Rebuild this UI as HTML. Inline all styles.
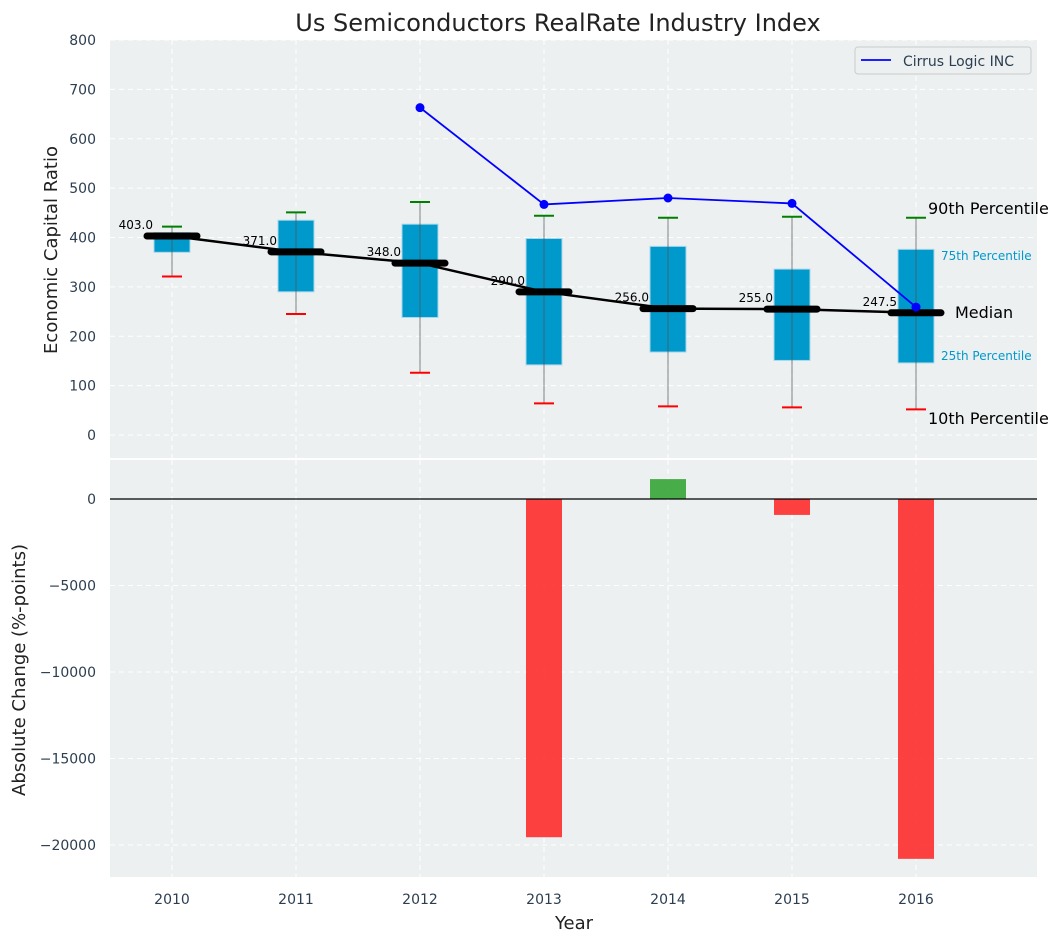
<!DOCTYPE html>
<html><head><meta charset="utf-8"><style>
body{margin:0;background:#fff;}
svg{display:block;font-family:"DejaVu Sans","Liberation Sans",sans-serif;}
</style></head><body>
<svg id="chart" width="1063" height="942"></svg>
<script>
const years=[2010,2011,2012,2013,2014,2015,2016];
const p10=[321,245,126,64,58,56,52];
const p25=[370,290,238,142,168,151,146];
const p75=[410,435,427,398,382,336,376];
const p90=[422,451,472,444,440,442,440];
const medians=[403,371,348,290,256,255,247.5];
const cirrusYears=[2012,2013,2014,2015,2016];
const cirrusVals=[663,467,480,469,259];
const changeYears=[2013,2014,2015,2016];
const changeVals=[-19550,1150,-920,-20800];
const topTicks=[0,100,200,300,400,500,600,700,800];
const botTicks=[0,-5000,-10000,-15000,-20000];

const svg=document.getElementById('chart');
const NS='http://www.w3.org/2000/svg';
function mk(tag,attrs,name,parent){const e=document.createElementNS(NS,tag);for(const k in attrs)e.setAttribute(k,attrs[k]);


(parent||svg).appendChild(e);return e;}
function txt(s,attrs,name){const e=mk('text',attrs,name);e.textContent=s;return e;}
const L=110,R=1037;
const x=v=>172+(v-2010)*124;
const yT=v=>435-v*0.49375;
const yB=v=>499-v*0.0173;
const T0=40,T1=458,B0=460,B1=877;
mk('rect',{x:L,y:T0,width:R-L,height:T1-T0,fill:'#ecf0f1'},'top-plot-area');
mk('rect',{x:L,y:B0,width:R-L,height:B1-B0,fill:'#ecf0f1'},'bottom-plot-area');
// grid
topTicks.forEach(t=>{mk('line',{x1:L,x2:R,y1:yT(t),y2:yT(t),stroke:'#fff','stroke-dasharray':'5,4','stroke-width':1},'top-grid-line');
txt(t,{x:96,y:yT(t)+5,'text-anchor':'end','font-size':14,fill:'#2c3e50'},'top-y-tick-label');});
botTicks.forEach(t=>{mk('line',{x1:L,x2:R,y1:yB(t),y2:yB(t),stroke:'#fff','stroke-dasharray':'5,4','stroke-width':1},'bottom-grid-line');
txt(t===0?'0':'\u2212'+Math.abs(t),{x:96,y:yB(t)+5,'text-anchor':'end','font-size':14,fill:'#2c3e50'},'bottom-y-tick-label');});
years.forEach(yr=>{mk('line',{x1:x(yr),x2:x(yr),y1:T0,y2:T1,stroke:'#fff','stroke-dasharray':'5,4'},'top-vgrid');
mk('line',{x1:x(yr),x2:x(yr),y1:B0,y2:B1,stroke:'#fff','stroke-dasharray':'5,4'},'bottom-vgrid');
txt(yr,{x:x(yr),y:904,'text-anchor':'middle','font-size':14,fill:'#2c3e50'},'x-tick-label');});
// boxes
years.forEach((yr,i)=>{const cx=x(yr);
mk('rect',{x:cx-18,y:yT(p75[i]),width:36,height:yT(p25[i])-yT(p75[i]),fill:'#0099cc',stroke:'#a9d8ea','stroke-width':1},'box-'+yr);
mk('line',{x1:cx,x2:cx,y1:yT(p90[i]),y2:yT(p10[i]),stroke:'#555','stroke-opacity':0.6,'stroke-width':1.2},'whisker-'+yr);
mk('line',{x1:cx-10,x2:cx+10,y1:yT(p90[i]),y2:yT(p90[i]),stroke:'green','stroke-width':2},'cap-90-'+yr);
mk('line',{x1:cx-10,x2:cx+10,y1:yT(p10[i]),y2:yT(p10[i]),stroke:'red','stroke-width':2},'cap-10-'+yr);});
mk('polyline',{points:years.map((yr,i)=>x(yr)+','+yT(medians[i])).join(' '),fill:'none',stroke:'#000','stroke-width':2.5},'median-line');
years.forEach((yr,i)=>{const cx=x(yr);
mk('line',{x1:cx-25,x2:cx+25,y1:yT(medians[i]),y2:yT(medians[i]),stroke:'#000','stroke-width':7,'stroke-linecap':'round'},'median-marker-'+yr);
txt(medians[i].toFixed(1),{x:cx-19,y:yT(medians[i])-7,'text-anchor':'end','font-size':12,fill:'#000'},'median-label-'+yr);});
// cirrus
mk('polyline',{points:cirrusYears.map((yr,i)=>x(yr)+','+yT(cirrusVals[i])).join(' '),fill:'none',stroke:'blue','stroke-width':1.8},'cirrus-line');
cirrusYears.forEach((yr,i)=>mk('circle',{cx:x(yr),cy:yT(cirrusVals[i]),r:4.5,fill:'blue'},'cirrus-point-'+yr));
// annotations
txt('90th Percentile',{x:928,y:214,'font-size':16,fill:'#000'},'p90-annotation');
txt('75th Percentile',{x:941,y:260,'font-size':12,fill:'#0099cc'},'p75-annotation');
txt('Median',{x:955,y:318,'font-size':16,fill:'#000'},'median-annotation');
txt('25th Percentile',{x:941,y:360,'font-size':12,fill:'#0099cc'},'p25-annotation');
txt('10th Percentile',{x:928,y:424,'font-size':16,fill:'#000'},'p10-annotation');
// legend
const lg=mk('g',{},'legend');
mk('rect',{x:855,y:47,width:176,height:27,rx:3,fill:'#ecf0f1',stroke:'#ccc'},'legend-box',lg);
mk('line',{x1:861,x2:891,y1:60,y2:60,stroke:'blue','stroke-width':1.8},'legend-swatch',lg);
const lt=mk('text',{x:903,y:66,'font-size':14,fill:'#2c3e50'},'legend-label',lg);lt.textContent='Cirrus Logic INC';
// bars
changeYears.forEach((yr,i)=>{const v=changeVals[i];const y0=yB(Math.max(v,0)),y1=yB(Math.min(v,0));
mk('rect',{x:x(yr)-18,y:y0,width:36,height:y1-y0,fill:v>=0?'#2ca02c':'#ff2020','fill-opacity':0.85},'change-bar-'+yr);});
mk('line',{x1:L,x2:R,y1:yB(0),y2:yB(0),stroke:'#000','stroke-width':1.2},'zero-line');
// titles
txt('Us Semiconductors RealRate Industry Index',{x:558,y:31,'text-anchor':'middle','font-size':24,fill:'#222'},'chart-title');
txt('Economic Capital Ratio',{x:57,y:250,'text-anchor':'middle','font-size':18,fill:'#222',transform:'rotate(-90 57 250)'},'top-y-axis-title');
txt('Absolute Change (%-points)',{x:25,y:670,'text-anchor':'middle','font-size':18,fill:'#222',transform:'rotate(-90 25 670)'},'bottom-y-axis-title');
txt('Year',{x:574,y:929,'text-anchor':'middle','font-size':18,fill:'#222'},'x-axis-title');
</script>
</body></html>
